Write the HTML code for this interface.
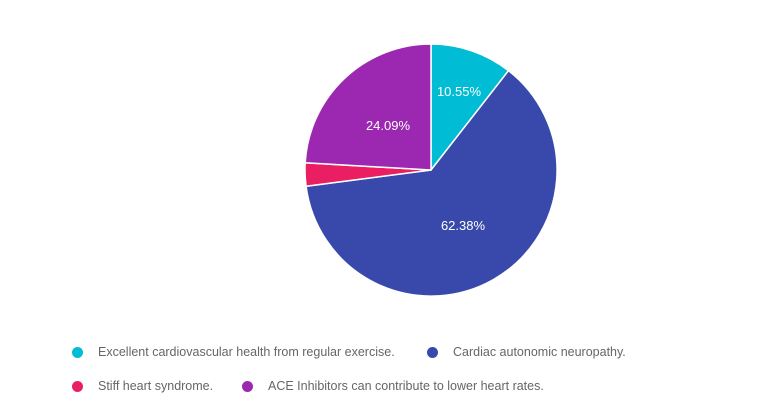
<!DOCTYPE html>
<html><head><style>
body{margin:0;background:#fff;width:768px;height:412px;overflow:hidden;font-family:"Liberation Sans",sans-serif}
.lg{position:absolute;font-size:12.5px;color:#666;white-space:nowrap}
.d{position:absolute;width:11px;height:11px;border-radius:50%}
</style></head><body>
<svg width="768" height="412" style="position:absolute;left:0;top:0">
<g stroke="#fff" stroke-width="1.5">
<path d="M431,170 L431,44 A126,126 0 0 1 508.5,70.7 Z" fill="#00bcd4"/>
<path d="M431,170 L508.5,70.7 A126,126 0 1 1 306.1,186.3 Z" fill="#3949ab"/>
<path d="M431,170 L306.1,186.3 A126,126 0 0 1 305.2,162.8 Z" fill="#e91e63"/>
<path d="M431,170 L305.2,162.8 A126,126 0 0 1 431,44 Z" fill="#9c27b0"/>
</g>
<g fill="#fff" font-size="13" font-family="Liberation Sans,sans-serif" text-anchor="middle">
<text x="459" y="96">10.55%</text>
<text x="463" y="230">62.38%</text>
<text x="388" y="130">24.09%</text>
</g>
</svg>
<div class="d" style="left:72px;top:347px;background:#00bcd4"></div>
<div class="lg" style="left:98px;top:345px">Excellent cardiovascular health from regular exercise.</div>
<div class="d" style="left:427px;top:347px;background:#3949ab"></div>
<div class="lg" style="left:453px;top:345px">Cardiac autonomic neuropathy.</div>
<div class="d" style="left:72px;top:381px;background:#e91e63"></div>
<div class="lg" style="left:98px;top:379px">Stiff heart syndrome.</div>
<div class="d" style="left:242px;top:381px;background:#9c27b0"></div>
<div class="lg" style="left:268px;top:379px">ACE Inhibitors can contribute to lower heart rates.</div>
</body></html>
